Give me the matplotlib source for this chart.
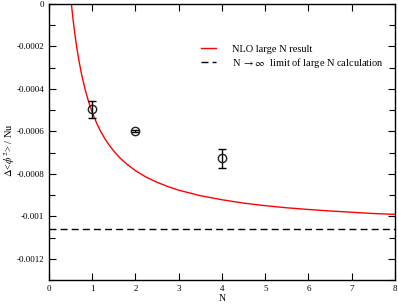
import numpy as np
import matplotlib
matplotlib.use('Agg')
import matplotlib.pyplot as plt
from matplotlib.ticker import MultipleLocator, FixedLocator, FixedFormatter

plt.rcParams['font.family'] = ['Liberation Serif', 'DejaVu Serif']
plt.rcParams['mathtext.fontset'] = 'stix'
plt.rcParams['axes.unicode_minus'] = False

# NLO large N curve
curve_n = [0.52, 0.54, 0.56, 0.58, 0.60, 0.63, 0.66, 0.70, 0.75, 0.80, 0.85,
           0.90, 0.95, 1.00, 1.10, 1.20, 1.30, 1.40, 1.50, 1.65, 1.80, 2.00,
           2.25, 2.50, 2.75, 3.00, 3.50, 4.00, 4.50, 5.00, 5.50, 6.00, 6.50,
           7.00, 7.50, 8.00]
curve_val = [-0.000002, -0.000041, -0.000078, -0.000112, -0.000143, -0.000187,
             -0.000227, -0.000274, -0.000327, -0.000372, -0.000413, -0.000449,
             -0.000481, -0.00051, -0.00056, -0.000602, -0.000637, -0.000667,
             -0.000693, -0.000727, -0.000754, -0.000785, -0.000816, -0.00084,
             -0.00086, -0.000877, -0.000903, -0.000922, -0.000938, -0.00095,
             -0.00096, -0.000968, -0.000975, -0.000981, -0.000987, -0.000991]

# large N limit
limit_val = -0.00106

# lattice points
pts_n = [1, 2, 4]
pts_val = [-0.000497, -0.0006, -0.000727]
pts_err = [0.00004, 0.000005, 0.000045]

y_ticks = [0, -0.0002, -0.0004, -0.0006, -0.0008, -0.001, -0.0012]
y_labels = ['0', '-0.0002', '-0.0004', '-0.0006', '-0.0008', '-0.001', '-0.0012']

fig = plt.figure(figsize=(3.98, 3.05), dpi=100)
ax = fig.add_axes([0.123, 0.082, 0.8695, 0.905])

ax.plot(curve_n, curve_val, color='red', lw=1.0, label='NLO large N result')
ax.plot([0, 8], [limit_val, limit_val], color='black', lw=1.0, dashes=(5, 3),
        label=r'N $\rightarrow\infty$  limit of large N calculation')
ax.errorbar(pts_n, pts_val, yerr=pts_err, fmt='o', mfc='none', mec='#222222',
            ecolor='black', ms=6, mew=1.0, elinewidth=1.0, capsize=3, capthick=1.0)

ax.set_xlim(0, 8)
ax.set_ylim(-0.0013, 0)
ax.xaxis.set_major_locator(MultipleLocator(1))
ax.yaxis.set_major_locator(FixedLocator(y_ticks))
ax.yaxis.set_major_formatter(FixedFormatter(y_labels))
ax.yaxis.set_minor_locator(MultipleLocator(0.0001))
ax.tick_params(which='both', direction='in', top=True, right=True, labelsize=6.5)
ax.tick_params(which='major', length=5, width=0.8)
ax.tick_params(which='minor', length=4, width=0.8)
for s in ax.spines.values():
    s.set_linewidth(1.0)

ax.set_xlabel('N', fontsize=7, labelpad=1)
ax.set_ylabel(r'$\Delta$<$\phi^2$> / Nu', fontsize=7.5)
ax.yaxis.set_label_coords(-0.093, 0.47)

ax.legend(loc='upper right', bbox_to_anchor=(0.985, 0.875), frameon=False,
          fontsize=7.5, handlelength=1.5, handletextpad=1.5, labelspacing=0.2,
          borderaxespad=0.2)

fig.savefig('out.png', dpi=100)
